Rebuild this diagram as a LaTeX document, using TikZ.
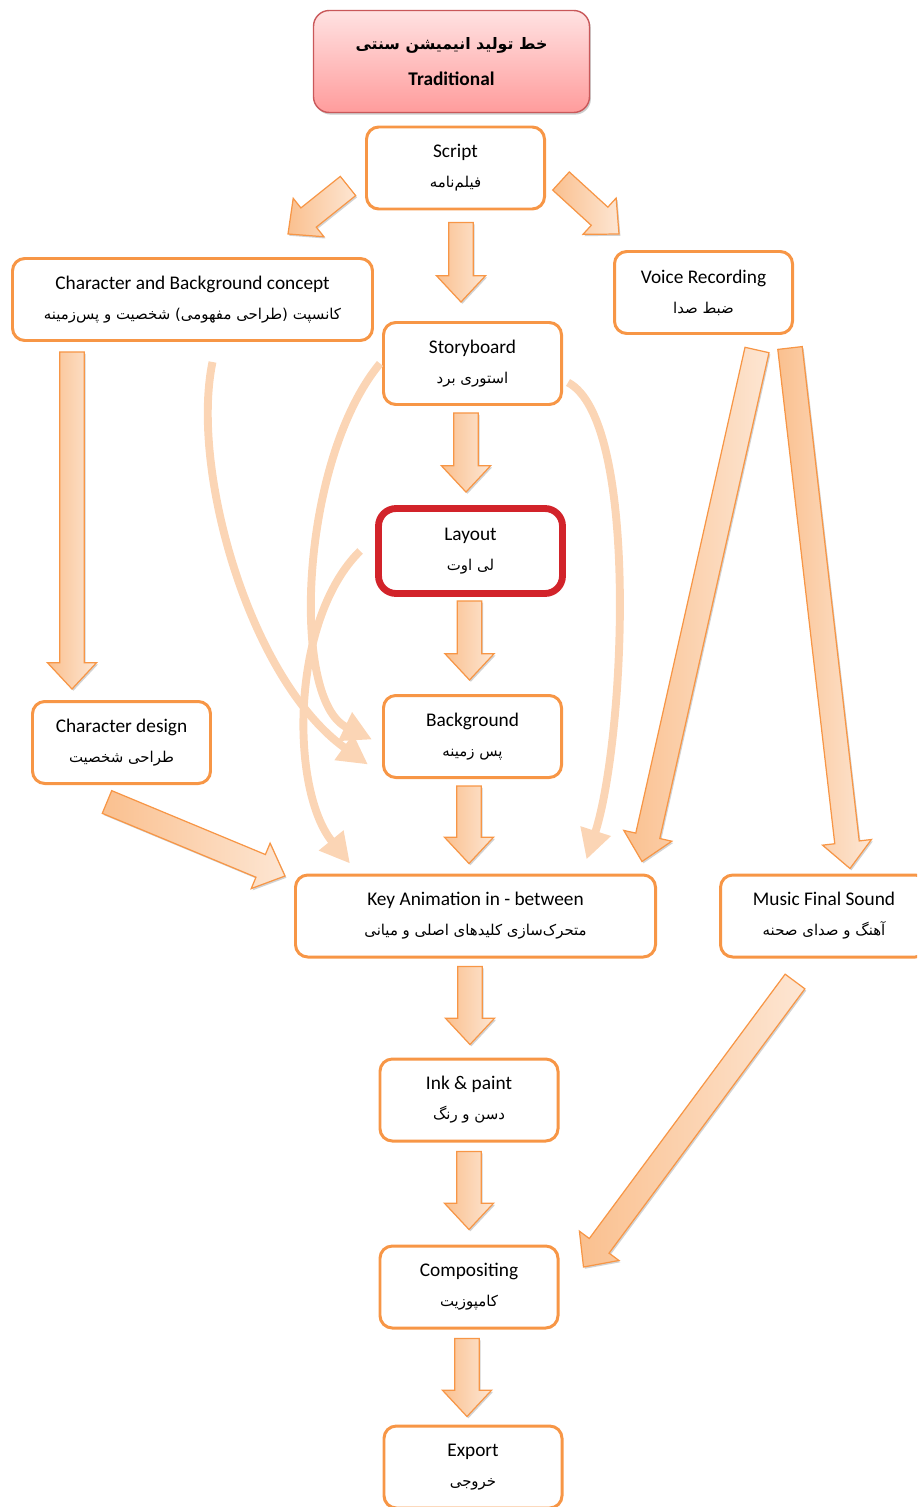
\documentclass[tikz,border=0pt]{standalone}
\usepackage{fontspec}
\setmainfont{Carlito}
\newfontfamily\farsi[Script=Arabic]{DejaVu Sans}
\TeXXeTstate=1
\usepackage{tikz}
\usetikzlibrary{calc}
\usetikzlibrary{arrows.meta}
\usetikzlibrary{shadows}
\definecolor{boxorange}{HTML}{F79646}
\definecolor{arrowdark}{HTML}{FAC08F}
\definecolor{arrowlight}{HTML}{FDE6D3}
\definecolor{curvepeach}{HTML}{FBD5B5}
\definecolor{layoutred}{HTML}{D2232A}
\definecolor{titletop}{HTML}{FFE2E2}
\definecolor{titlebottom}{HTML}{FF9C9C}
\definecolor{titleborder}{HTML}{C9585A}
\newcommand{\fatext}[1]{{\farsi\fontsize{8.5}{10}\selectfont\beginR #1\endR}}
% fat arrow between two points
\newcommand{\blockarrow}[2]{%
\coordinate (BAs) at #1;
\coordinate (BAe) at #2;
\coordinate (BAh) at ($(BAe)!15pt!(BAs)$);
\path[BlockArrow] ($(BAs)!7pt!90:(BAe)$) -- ($(BAh)!7pt!-90:(BAs)$) -- ($(BAh)!14pt!-90:(BAs)$) -- (BAe)
 -- ($(BAh)!14pt!90:(BAs)$) -- ($(BAh)!7pt!90:(BAs)$) -- ($(BAs)!7pt!-90:(BAe)$) -- cycle;
}

\begin{document}
\begin{tikzpicture}[
x=0.02cm,y=-0.02cm,
every node/.style={font=\fontsize{11}{14}\selectfont},
Stage/.style={draw=boxorange,line width=1.7pt,rounded corners=7pt,fill=white,align=center,
  minimum width=178*0.02cm,minimum height=82*0.02cm,inner sep=2pt},
TitleBox/.style={draw=titleborder,line width=0.8pt,rounded corners=9pt,top color=titletop,bottom color=titlebottom,
  align=center,minimum width=276*0.02cm,minimum height=102*0.02cm,
  drop shadow={shadow xshift=0.8pt,shadow yshift=-1.2pt,fill=black!40}},
BlockArrow/.style={draw=boxorange,line width=0.7pt,line join=miter,left color=arrowdark,right color=arrowlight,
  drop shadow={shadow xshift=0.8pt,shadow yshift=-1pt,fill=black!35}},
SoftArrow/.style={draw=curvepeach,line width=4.5pt,-{Triangle[length=17pt,width=17pt]}}
]
\clip (0,0) rectangle (917,1507);

% stages
\node[TitleBox] (title) at (451.5,61.5) {{\farsi\bfseries\fontsize{9}{11}\selectfont\beginR خط تولید انیمیشن سنتی\endR}\\[6pt]\textbf{Traditional}};
\node[Stage] (script) at (455.5,168) {Script\\[3pt]\fatext{فیلم‌نامه}};
\node[Stage,minimum width=360*0.02cm] (concept) at (192.5,299.5) {Character and Background concept\\[3pt]\fatext{کانسپت (طراحی مفهومی) شخصیت و پس‌زمینه}};
\node[Stage] (voice) at (703.5,292.5) {Voice Recording\\[3pt]\fatext{ضبط صدا}};
\node[Stage] (story) at (472.5,363.5) {Storyboard\\[3pt]\fatext{استوری برد}};
\node[Stage,draw=layoutred,line width=3.9pt,rounded corners=10pt,minimum width=184*0.02cm,minimum height=85*0.02cm] (layout) at (470.5,551) {Layout\\[3pt]\fatext{لی اوت}};
\node[Stage] (chardesign) at (121.5,742.5) {Character design\\[3pt]\fatext{طراحی شخصیت}};
\node[Stage] (bg) at (472.5,736.5) {Background\\[3pt]\fatext{پس زمینه}};
\node[Stage,minimum width=360*0.02cm] (key) at (475.5,916) {Key Animation in - between\\[3pt]\fatext{متحرک‌سازی کلیدهای اصلی و میانی}};
\node[Stage,minimum width=207*0.02cm] (music) at (824,916) {Music Final Sound\\[3pt]\fatext{آهنگ و صدای صحنه}};
\node[Stage] (ink) at (469,1100) {Ink \& paint\\[3pt]\fatext{دسن و رنگ}};
\node[Stage] (comp) at (469,1287) {Compositing\\[3pt]\fatext{کامپوزیت}};
\node[Stage] (export) at (473,1467) {Export\\[3pt]\fatext{خروجی}};

% curved arrows
\draw[SoftArrow] ($(concept.south)+(20,20)$) .. controls (190,470) and (250,680) .. ($(bg.west)+(-14,28)$);
\draw[SoftArrow] ($(story.west)+(-2,0)$) .. controls (300,460) and (290,700) .. ($(bg.west)+(-10,3)$);
\draw[SoftArrow] ($(layout.west)+(-15,0)$) .. controls (290,620) and (290,790) .. ($(key.north west)+(56,-10)$);
\draw[SoftArrow] ($(story.east)+(5,19)$) .. controls (640,420) and (625,740) .. ($(key.north)+(111,-14)$);

% fat arrows
\blockarrow{($(script.south)+(5.5,12)$)}{($(story.north)+(-11.5,-19)$)}
\blockarrow{($(story.south)+(-6.5,7)$)}{($(layout.north)+(-4.5,-13)$)}
\blockarrow{($(layout.south)+(-1,4)$)}{($(bg.north)+(-3,-14)$)}
\blockarrow{($(bg.south)+(-3.5,7)$)}{($(key.north)+(-6.5,-10)$)}
\blockarrow{($(key.south)+(-5.5,8)$)}{($(ink.north)+(1,-13)$)}
\blockarrow{($(ink.south)+(0,9)$)}{($(comp.north)+(0,-15)$)}
\blockarrow{($(comp.south)+(-2,9)$)}{($(export.north)+(-6,-8)$)}
\blockarrow{($(concept.south)+(-120.5,10)$)}{($(chardesign.north)+(-49.5,-11)$)}
\blockarrow{($(script.west)+(-17,18)$)}{($(concept.north)+(95.5,-23)$)}
\blockarrow{($(script.east)+(15,13)$)}{($(voice.north)+(-84.5,-16)$)}
\blockarrow{($(voice.south)+(53.5,15)$)}{($(key.north east)+(-15,-12)$)}
\blockarrow{($(voice.south)+(86.5,13)$)}{($(music.north)+(26,-5)$)}
\blockarrow{($(chardesign.south)+(-14.5,17)$)}{($(key.west)+(-9,-40)$)}
\blockarrow{($(music.south)+(-29,23)$)}{($(comp.east)+(24,-20)$)}

\end{tikzpicture}
\end{document}
